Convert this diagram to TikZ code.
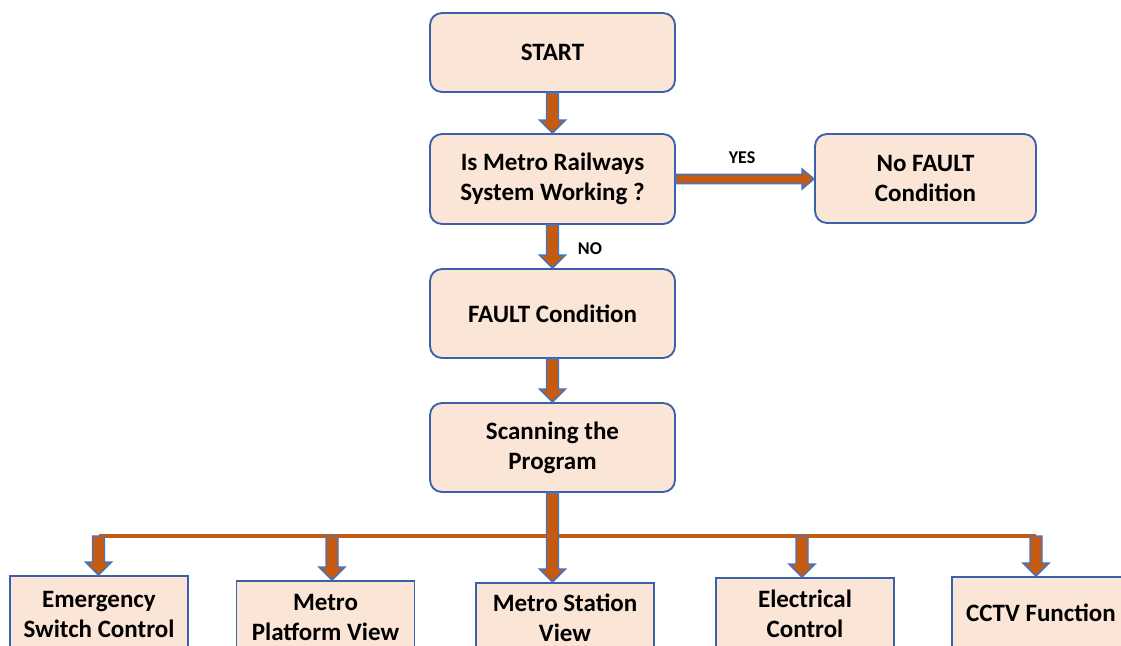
\documentclass[tikz,border=0pt]{standalone}
\usepackage{fontspec}
\setmainfont{Carlito}
\usetikzlibrary{calc}
\definecolor{boxfill}{HTML}{FBE5D6}
\definecolor{boxline}{HTML}{3A62AC}
\definecolor{arrfill}{HTML}{C55A11}
\definecolor{arrline}{HTML}{4472C4}
\tikzset{
  topbox/.style={draw=boxline, fill=boxfill, line width=1.4pt, rounded corners=9pt,
    minimum width=183.75pt, align=center, inner sep=0pt,
    font=\fontsize{18.75}{22.5}\selectfont\bfseries},
  childbox/.style={draw=boxline, fill=boxfill, line width=1.3pt, minimum width=133.5pt,
    align=center, inner sep=0pt, font=\fontsize{18.75}{22.5}\selectfont\bfseries},
  blockarr/.style={draw=arrline, fill=arrfill, line width=1.1pt, line join=miter},
  bar/.style={draw=arrfill, line width=3pt},
  lbl/.style={font=\fontsize{13.5}{16}\selectfont\bfseries, inner sep=0pt}
}
\newcommand\vblock[2]{\draw[blockarr] let \p1=(#1), \p2=(#2) in
  (\x1-4.5pt,\y1) -- (\x1-4.5pt,\y2+9.75pt) -- (\x1-9.75pt,\y2+9.75pt) -- (\x1,\y2)
  -- (\x1+9.75pt,\y2+9.75pt) -- (\x1+4.5pt,\y2+9.75pt) -- (\x1+4.5pt,\y1) -- cycle;}
\newcommand\hblock[2]{\draw[blockarr] let \p1=(#1), \p2=(#2) in
  (\x1,\y1+3.4pt) -- (\x2-9pt,\y1+3.4pt) -- (\x2-9pt,\y1+7.5pt) -- (\x2,\y1)
  -- (\x2-9pt,\y1-7.5pt) -- (\x2-9pt,\y1-3.4pt) -- (\x1,\y1-3.4pt) -- cycle;}
\begin{document}
\begin{tikzpicture}[x=0.75pt,y=-0.75pt]
\useasboundingbox (0,0) rectangle (1121,646);
\clip (0,0) rectangle (1121,646);
% main column
\node[topbox, minimum height=59.25pt] (start) at (552.5,52.5) {START};
\node[topbox, minimum height=67.5pt] (q) at (552.5,179) {Is Metro Railways\\System Working ?};
\node[topbox, minimum width=165.75pt, minimum height=66.75pt] (nofault) at (925.5,178.5) {No FAULT\\Condition};
\node[topbox, minimum height=66.75pt] (fault) at (552.5,313.5) {FAULT Condition};
\node[topbox, minimum height=66.75pt] (scan) at (552.5,447.5) {Scanning the\\Program};
% children
\node[childbox, minimum height=57.75pt] (emg) at (99,614.5) {Emergency\\Switch Control};
\node[childbox, minimum height=54.75pt] (plat) at (325.5,617.5) {Metro\\Platform View};
\node[childbox, minimum height=51.75pt] (stat) at (565,617.5) {Metro Station\\View};
\node[childbox, minimum height=53.25pt] (elec) at (805,613.5) {Electrical\\Control};
\node[childbox, minimum height=54pt] (cctv) at (1041,613) {CCTV Function};
% labels
\node[lbl] (yes) at (742,158) {YES};
\node[lbl] (no) at (590,249) {NO};
% connectors
\vblock{start.south}{q.north}
\hblock{q.east}{nofault.west}
\vblock{q.south}{fault.north}
\vblock{fault.south}{scan.north}
\coordinate (b1) at (98.5,536);
\coordinate (b2) at (332,536);
\coordinate (b4) at (802,536);
\coordinate (b5) at (1036,536);
\draw[bar] (b1) -- (b5);
\vblock{b1}{b1 |- emg.north}
\vblock{b2}{b2 |- plat.north}
\vblock{b4}{b4 |- elec.north}
\vblock{b5}{b5 |- cctv.north}
\vblock{scan.south}{scan.south |- stat.north}
\end{tikzpicture}
\end{document}
